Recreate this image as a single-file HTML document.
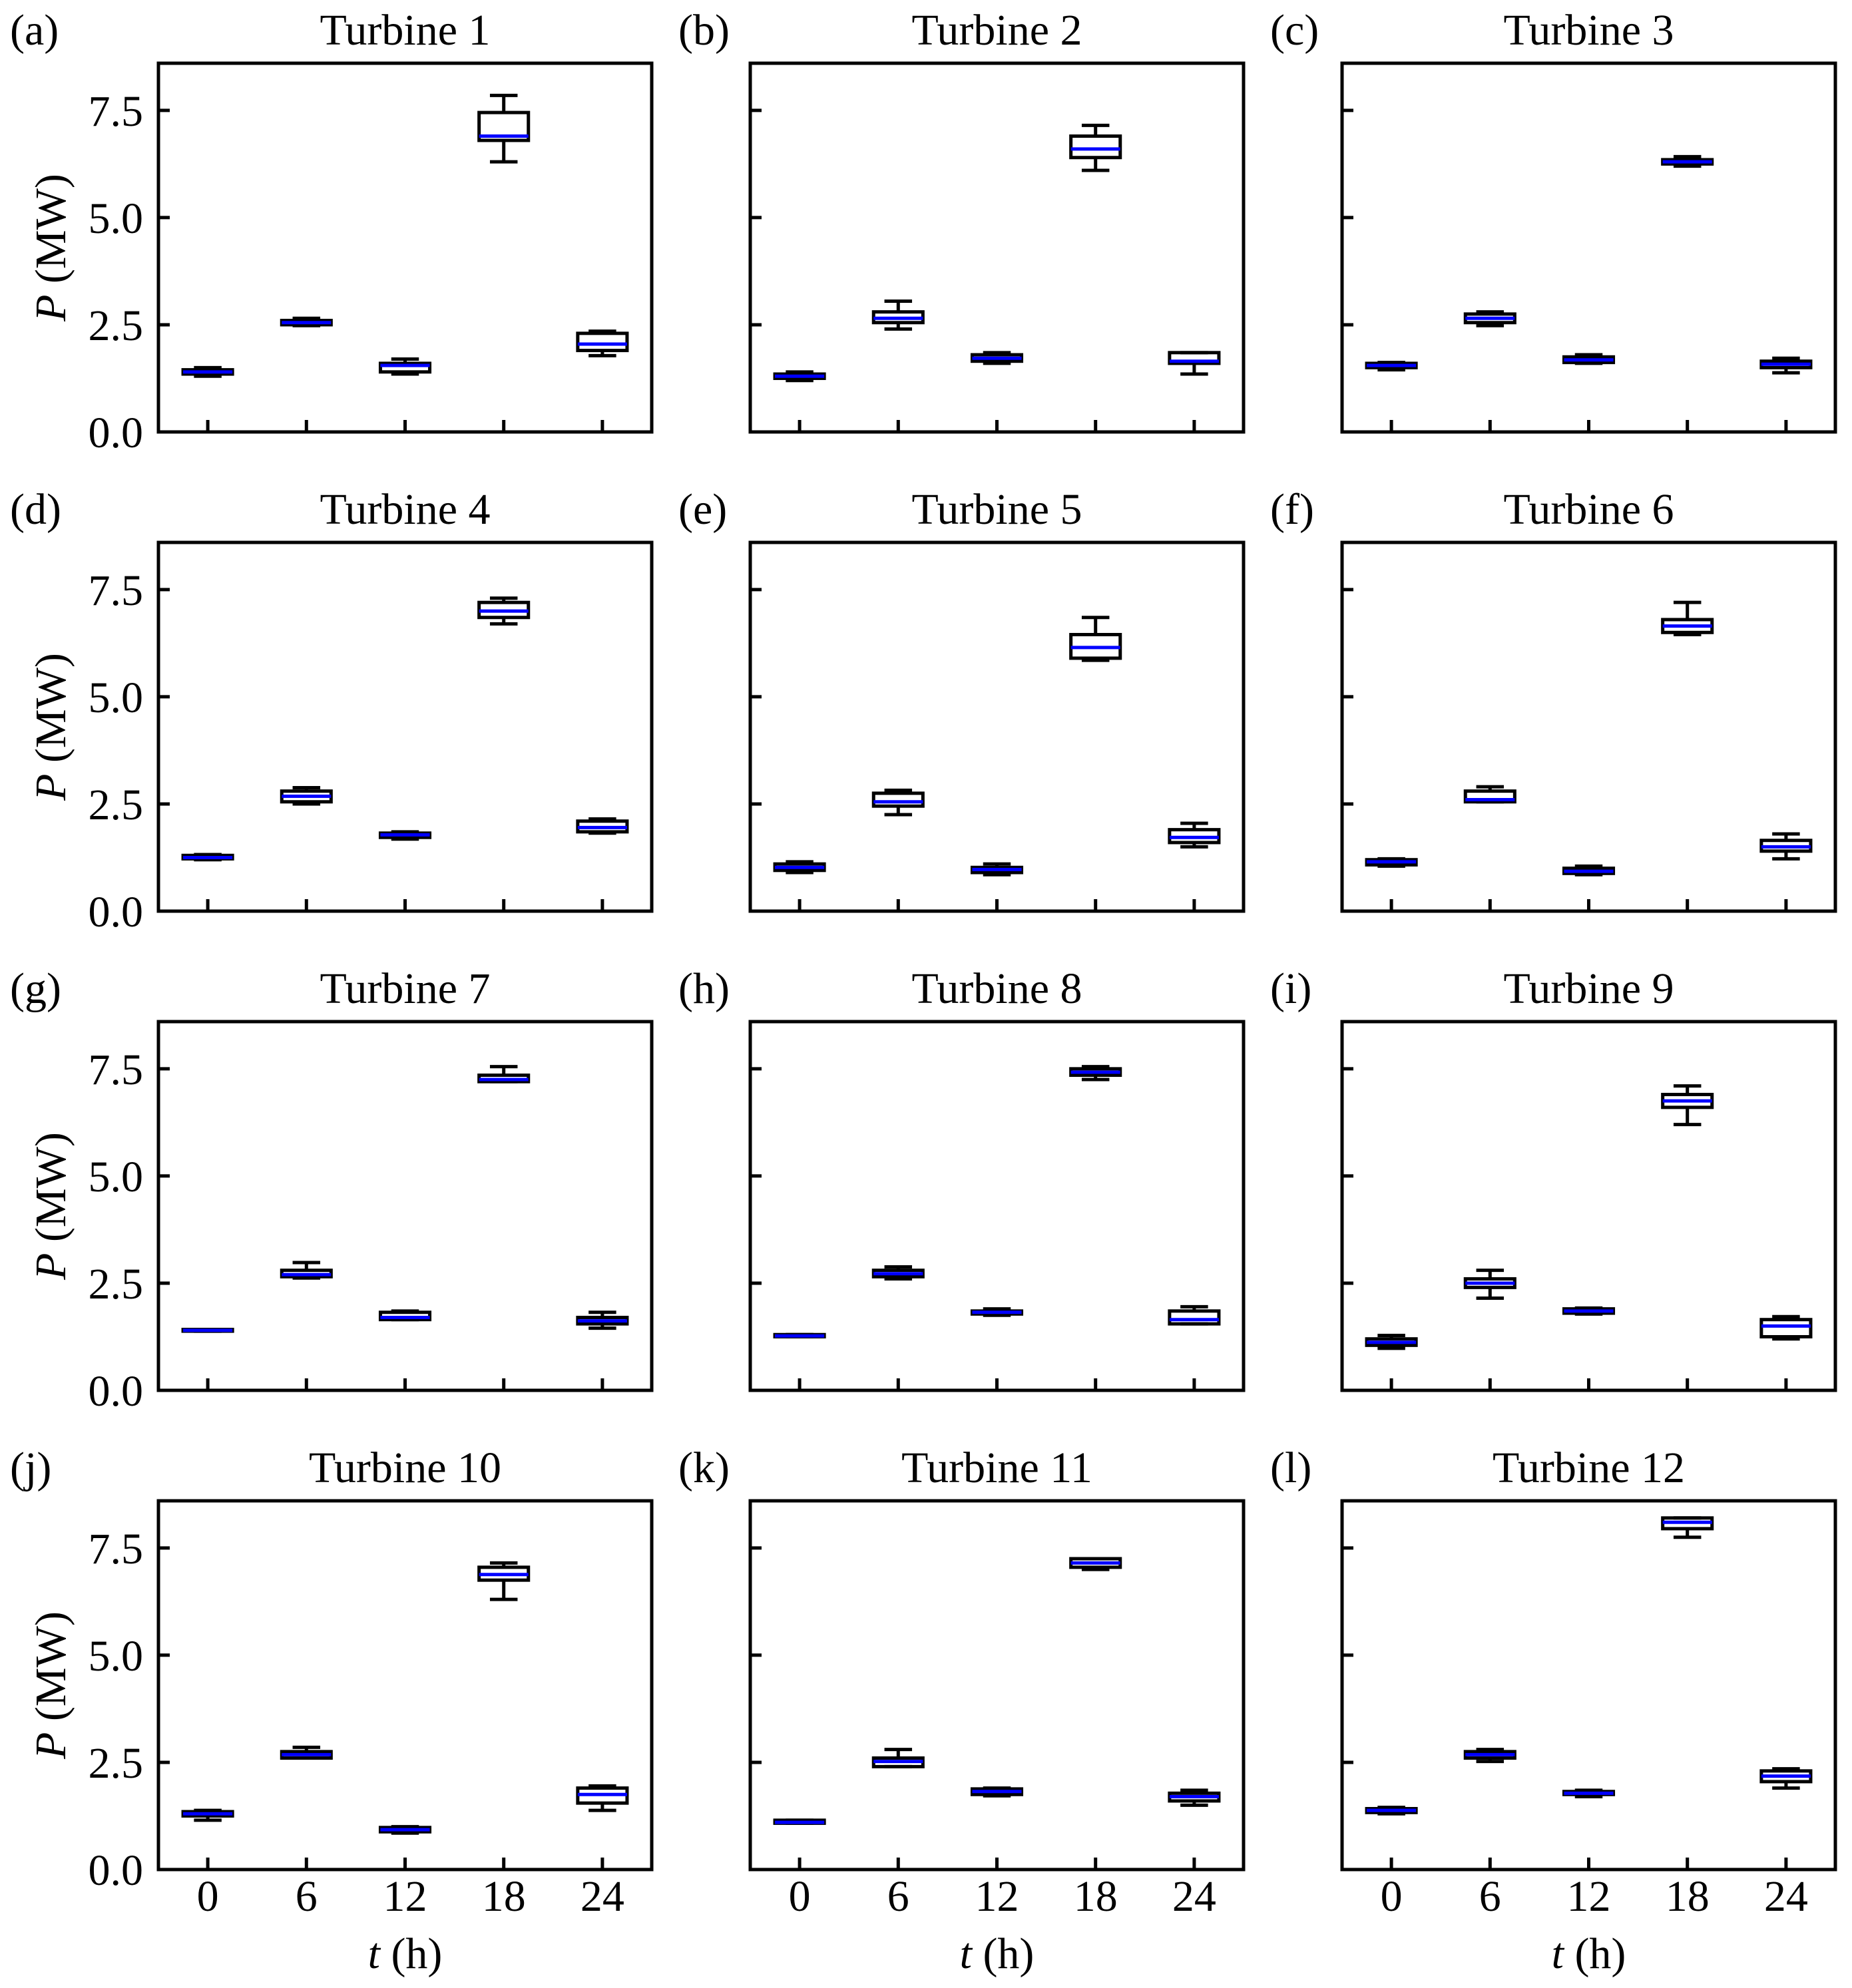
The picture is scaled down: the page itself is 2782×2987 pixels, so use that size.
<!DOCTYPE html>
<html><head><meta charset="utf-8">
<style>
html,body{margin:0;padding:0;background:#fff;}
svg{display:block;}
</style></head>
<body>
<svg id="fig" width="2782" height="2987" viewBox="0 0 2782 2987" xmlns="http://www.w3.org/2000/svg" font-family="'Liberation Serif', 'DejaVu Serif', serif">
</svg>
<script>
const categories = ["0","6","12","18","24"];
const yTicks = [0, 2.5, 5.0, 7.5];
const yTickLabels = ["0.0","2.5","5.0","7.5"];
const panelLabels = ["(a)","(b)","(c)","(d)","(e)","(f)","(g)","(h)","(i)","(j)","(k)","(l)"];
const titles = ["Turbine 1","Turbine 2","Turbine 3","Turbine 4","Turbine 5","Turbine 6","Turbine 7","Turbine 8","Turbine 9","Turbine 10","Turbine 11","Turbine 12"];
const q1 = [
 [1.35,2.50,1.40,6.80,1.90],[1.25,2.55,1.65,6.40,1.60],[1.50,2.55,1.62,6.25,1.50],
 [1.22,2.55,1.72,6.85,1.85],[0.95,2.45,0.90,5.90,1.60],[1.08,2.55,0.88,6.50,1.40],
 [1.38,2.65,1.65,7.20,1.55],[1.25,2.65,1.78,7.35,1.55],[1.05,2.40,1.80,6.60,1.25],
 [1.25,2.60,0.88,6.75,1.55],[1.08,2.40,1.75,7.05,1.60],[1.33,2.60,1.75,7.95,2.05]];
const medians = [
 [1.40,2.55,1.55,6.90,2.05],[1.30,2.65,1.72,6.60,1.65],[1.55,2.65,1.68,6.30,1.58],
 [1.25,2.68,1.78,7.00,1.95],[1.02,2.55,0.97,6.15,1.72],[1.15,2.60,0.93,6.65,1.50],
 [1.40,2.70,1.70,7.25,1.62],[1.27,2.72,1.82,7.42,1.65],[1.12,2.50,1.85,6.75,1.50],
 [1.30,2.68,0.93,6.88,1.75],[1.10,2.52,1.82,7.15,1.70],[1.38,2.68,1.78,8.10,2.18]];
const q3 = [
 [1.45,2.60,1.60,7.45,2.30],[1.35,2.80,1.80,6.90,1.85],[1.60,2.75,1.75,6.35,1.65],
 [1.30,2.80,1.82,7.20,2.10],[1.10,2.75,1.02,6.45,1.90],[1.20,2.80,1.00,6.80,1.65],
 [1.42,2.80,1.82,7.35,1.70],[1.30,2.80,1.85,7.50,1.85],[1.20,2.60,1.90,6.90,1.65],
 [1.35,2.75,0.98,7.05,1.90],[1.15,2.60,1.88,7.25,1.78],[1.42,2.75,1.82,8.20,2.30]];
const whiskerLow = [
 [1.30,2.48,1.35,6.30,1.78],[1.20,2.40,1.60,6.10,1.35],[1.45,2.48,1.60,6.20,1.38],
 [1.20,2.50,1.68,6.70,1.82],[0.90,2.25,0.85,5.85,1.50],[1.05,2.55,0.85,6.45,1.22],
 [1.38,2.62,1.65,7.20,1.45],[1.25,2.60,1.75,7.25,1.55],[0.98,2.15,1.78,6.20,1.20],
 [1.15,2.60,0.85,6.30,1.38],[1.08,2.40,1.72,7.00,1.50],[1.30,2.52,1.70,7.75,1.90]];
const whiskerHigh = [
 [1.50,2.65,1.70,7.85,2.35],[1.40,3.05,1.85,7.15,1.85],[1.62,2.80,1.80,6.42,1.72],
 [1.32,2.88,1.85,7.30,2.15],[1.15,2.82,1.10,6.85,2.05],[1.22,2.90,1.05,7.20,1.80],
 [1.42,2.98,1.85,7.55,1.82],[1.30,2.88,1.90,7.55,1.95],[1.28,2.80,1.92,7.10,1.72],
 [1.38,2.85,1.00,7.15,1.95],[1.15,2.80,1.90,7.25,1.85],[1.45,2.80,1.85,8.20,2.35]];

const svg = document.getElementById('fig');
const NS = 'http://www.w3.org/2000/svg';
const FF = "'Liberation Serif', 'DejaVu Serif', serif";
function mk(tag, attrs, parent){const e=document.createElementNS(NS,tag);for(const k in attrs)e.setAttribute(k,attrs[k]);if(tag==='text')e.setAttribute('font-family',FF);(parent||svg).appendChild(e);return e;}

const colLeft=[238,1127,2016], W=741, rowTop=[95,815,1535,2255], H=554;
const YMAX=8.6, XMIN=0.5, XMAX=5.5;
const BOXW=0.5, CAPW=0.28, LW=5;
const FS=66;

for(let p=0;p<12;p++){
  const r=Math.floor(p/3), c=p%3;
  const L=colLeft[c], T=rowTop[r], B=T+H;
  const xs=v=>L+(v-XMIN)/(XMAX-XMIN)*W;
  const ys=v=>B-v/YMAX*H;
  const g=mk('g',{});
  
  

  const lab=mk('text',{x:(c===0?L-223:L-108),y:T-28,'font-size':FS},g);
  lab.textContent=panelLabels[p];
  
  
  const ti=mk('text',{x:L+W/2,y:T-28,'font-size':FS,'text-anchor':'middle'},g);
  ti.textContent=titles[p];
  
  

  yTicks.forEach((v,i)=>{
    const t=mk('line',{x1:L,x2:L+17,y1:ys(v),y2:ys(v),stroke:'#000','stroke-width':LW},g);
    
    
    if(c===0){
      const tl=mk('text',{x:L-23,y:ys(v)+23,'font-size':FS,'text-anchor':'end'},g);
      tl.textContent=yTickLabels[i];
      
      
    }
  });
  categories.forEach((cat,i)=>{
    const x=xs(i+1);
    const t=mk('line',{x1:x,x2:x,y1:B,y2:B-18,stroke:'#000','stroke-width':LW},g);
    
    
    if(r===3){
      const tl=mk('text',{x:x,y:B+62,'font-size':FS,'text-anchor':'middle'},g);
      tl.textContent=cat;
      
      
    }
  });
  if(c===0){
    const yl=mk('text',{x:0,y:0,'font-size':FS,'text-anchor':'middle',transform:`translate(${L-140},${T+H/2}) rotate(-90)`},g);
    yl.innerHTML='<tspan font-style="italic">P</tspan> (MW)';
    
    
  }
  if(r===3){
    const xl=mk('text',{x:L+W/2,y:B+148,'font-size':FS,'text-anchor':'middle'},g);
    xl.innerHTML='<tspan font-style="italic">t</tspan> (h)';
    
    
  }
  for(let i=0;i<categories.length;i++){
    const x=xs(i+1), hw=BOXW/2*W/(XMAX-XMIN), cw=CAPW/2*W/(XMAX-XMIN);
    const bg=mk('g',{},g);
    
    
    const lo=ys(whiskerLow[p][i]), hi=ys(whiskerHigh[p][i]), a=ys(q1[p][i]), b=ys(q3[p][i]), m=ys(medians[p][i]);
    mk('line',{x1:x,x2:x,y1:a,y2:lo,stroke:'#000','stroke-width':LW},bg);
    mk('line',{x1:x,x2:x,y1:b,y2:hi,stroke:'#000','stroke-width':LW},bg);
    mk('line',{x1:x-cw,x2:x+cw,y1:lo,y2:lo,stroke:'#000','stroke-width':LW},bg);
    mk('line',{x1:x-cw,x2:x+cw,y1:hi,y2:hi,stroke:'#000','stroke-width':LW},bg);
    mk('rect',{x:x-hw,y:b,width:2*hw,height:Math.max(a-b,0.5),fill:'none',stroke:'#000','stroke-width':LW},bg);
    const ml=mk('line',{x1:x-hw,x2:x+hw,y1:m,y2:m,stroke:'#0000ff','stroke-width':5},bg);
    
    
  }
  const fr=mk('rect',{x:L,y:T,width:W,height:H,fill:'none',stroke:'#000','stroke-width':LW},g);
  
  
}
</script>
</body></html>
